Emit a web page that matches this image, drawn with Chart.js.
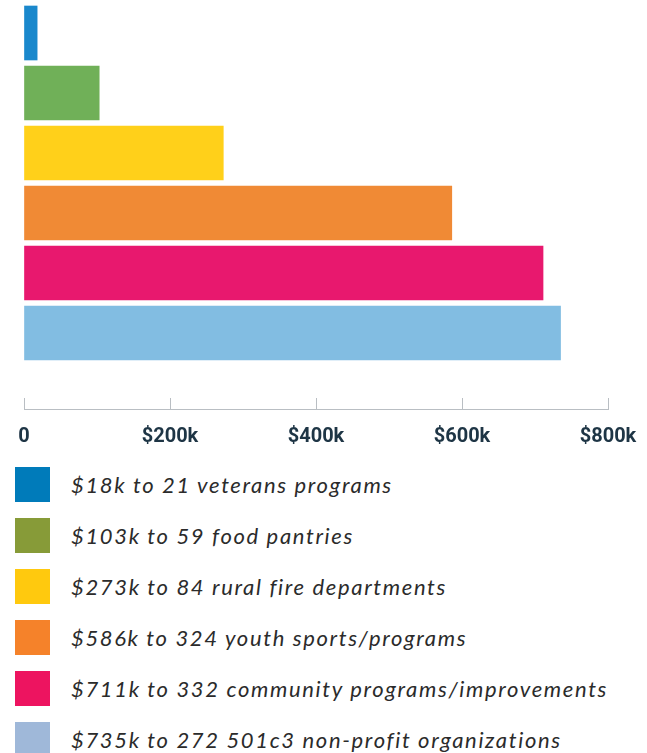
<!DOCTYPE html>
<html>
<head>
<meta charset="utf-8">
<title>Grants by category</title>
<script src="https://cdn.jsdelivr.net/npm/chart.js@4.4.1/dist/chart.umd.min.js"></script>
<style>
    html, body { margin: 0; padding: 0; background: #fff; }
    #wrap { position: relative; width: 647px; height: 476px; }
    #legend { list-style: none; margin: -9px 0 0 0; padding: 0; }
    #legend li { display: flex; align-items: center; height: 35px; margin-bottom: 16px; padding-left: 15px; }
    #legend .box { width: 35px; height: 35px; margin-right: 21px; flex: none; }
    #legend .txt { font-family: Lato, 'Open Sans', sans-serif; font-style: italic; font-size: 22px; color: #2b2b2b; letter-spacing: 1.65px; white-space: nowrap; }
</style>
</head>
<body>
<div id="wrap"><canvas id="myChart"></canvas></div>
<ul id="legend"></ul>
<script>
// amounts in $k, recipients = number of groups funded
const categories = ['veterans programs', 'food pantries', 'rural fire departments', 'youth sports/programs', 'community programs/improvements', '501c3 non-profit organizations'];
const amounts = [18, 103, 273, 586, 711, 735];
const recipients = [21, 59, 84, 324, 332, 272];
const xTicks = [0, 200, 400, 600, 800];
const xTickLabels = ['0', '$200k', '$400k', '$600k', '$800k'];

const barColors = ['#1a88cc', '#70b058', '#ffd01a', '#f08a35', '#e8186e', '#82bde2'];
const legendColors = ['#007bba', '#879b38', '#ffc90e', '#f5822a', '#ed1460', '#9fb8d9'];

document.addEventListener('DOMContentLoaded', () => {
    const ctx = document.getElementById('myChart');

    const myChart = new Chart(ctx, {
        type: 'bar',
        data: {
            labels: categories,
            datasets: [{
                label: 'Grants',
                data: amounts.map((v, i) => ({ x: v, y: i })),
                backgroundColor: barColors,
                borderWidth: 0,
                barThickness: 54
            }]
        },
        options: {
            indexAxis: 'y',
            responsive: true,
            maintainAspectRatio: false,
            animation: false,
            layout: {
                padding: { left: 24, right: 39, top: 3, bottom: 0 }
            },
            plugins: {
                legend: { display: false },
                tooltip: {
                    callbacks: {
                        title: items => categories[items[0].dataIndex],
                        label: item => '$' + amounts[item.dataIndex] + 'k to ' + recipients[item.dataIndex]
                    }
                }
            },
            scales: {
                // linear index axis so the gap above the x axis can be kept
                y: {
                    type: 'linear',
                    reverse: true,
                    offset: false,
                    min: -0.5,
                    max: 6.267,
                    display: false
                },
                x: {
                    type: 'linear',
                    min: 0,
                    max: 800,
                    afterBuildTicks: scale => {
                        scale.ticks = xTicks.map(v => ({ value: v }));
                    },
                    grid: {
                        drawOnChartArea: false,
                        drawTicks: true,
                        tickLength: -11, // ticks point up from the axis line
                        color: '#b9bec3'
                    },
                    border: {
                        display: true,
                        color: '#b9bec3'
                    },
                    ticks: {
                        padding: 8,
                        maxRotation: 0,
                        color: '#1e3545',
                        font: { family: 'Roboto', size: 20, weight: 'bold', lineHeight: 3.1 },
                        callback: (v, i) => xTickLabels[i]
                    }
                }
            }
        }
    });

    // legend built from the same arrays
    const legend = document.getElementById('legend');
    categories.forEach((c, i) => {
        const li = document.createElement('li');
        const box = document.createElement('span');
        box.className = 'box';
        box.style.background = legendColors[i];
        const txt = document.createElement('span');
        txt.className = 'txt';
        txt.textContent = '$' + amounts[i] + 'k to ' + recipients[i] + ' ' + c;
        li.appendChild(box);
        li.appendChild(txt);
        legend.appendChild(li);
    });
});
</script>
</body>
</html>
